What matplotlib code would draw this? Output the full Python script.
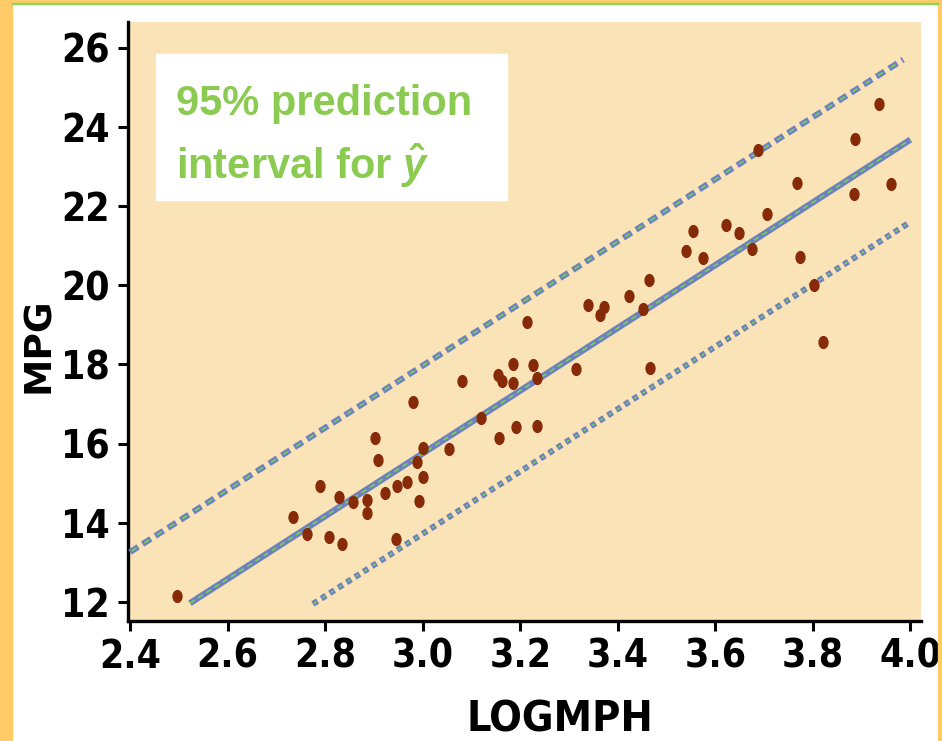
import matplotlib
matplotlib.use('Agg')
import matplotlib.pyplot as plt
from matplotlib import font_manager
from matplotlib.patches import Rectangle
from matplotlib.path import Path
import numpy as np

# scatter data: LOGMPH vs MPG
logmph = [2.496, 2.734, 2.763, 2.790, 2.808, 2.828, 2.835, 2.857, 2.886, 2.886,
          2.902, 2.908, 2.923, 2.945, 2.947, 2.968, 2.980, 2.988, 2.992, 3.001,
          3.001, 3.054, 3.081, 3.120, 3.156, 3.154, 3.163, 3.185, 3.185, 3.191,
          3.214, 3.226, 3.234, 3.234, 3.314, 3.339, 3.364, 3.372, 3.423, 3.452,
          3.464, 3.466, 3.540, 3.554, 3.575, 3.622, 3.648, 3.675, 3.706, 3.687,
          3.767, 3.774, 3.802, 3.821, 3.884, 3.886, 3.935, 3.960]
mpg = [12.15, 14.15, 13.72, 14.93, 13.64, 14.65, 13.46, 14.53, 14.58, 14.25,
       16.14, 15.59, 14.75, 13.59, 14.93, 15.03, 17.05, 15.54, 14.55, 15.16,
       15.89, 15.86, 17.58, 16.65, 16.14, 17.73, 17.58, 18.01, 17.53, 16.42,
       19.07, 17.98, 16.44, 17.66, 17.88, 19.50, 19.25, 19.45, 19.73, 19.40,
       20.13, 17.91, 20.86, 21.37, 20.69, 21.52, 21.32, 20.91, 21.80, 23.41,
       22.58, 20.71, 20.01, 18.57, 22.30, 23.69, 24.58, 22.56]

# fitted line and 95% prediction interval bounds
fit_x = [2.523, 4.0]
fit_y = [11.97, 23.68]
upper_x = [2.4, 3.985]
upper_y = [13.26, 25.70]
lower_x = [2.775, 4.0]
lower_y = [11.95, 21.60]

xticks = [2.4, 2.6, 2.8, 3.0, 3.2, 3.4, 3.6, 3.8, 4.0]
yticks = [12, 14, 16, 18, 20, 22, 24, 26]

plt.rcParams['lines.scale_dashes'] = False
plt.rcParams['mathtext.fontset'] = 'custom'
plt.rcParams['mathtext.it'] = 'Liberation Sans:italic:bold'
plt.rcParams['mathtext.rm'] = 'Liberation Sans:bold'

# look for a condensed bold face for the tick labels
cond_file = None
for f in font_manager.fontManager.ttflist:
    name = (f.name + ' ' + str(f.stretch) + ' ' + f.fname).lower()
    if ('condensed' in name or 'narrow' in name) and f.weight in (700, 'bold') and 'oblique' not in name \
            and 'italic' not in name:
        cond_file = f.fname
        break
if cond_file:
    tick_font = dict(fname=cond_file, size=28)
else:
    tick_font = dict(family='DejaVu Sans', weight='bold', size=24)

W, H = 942, 741
fig = plt.figure(figsize=(W / 100, H / 100), dpi=100)
fig.patch.set_facecolor('white')

# slide frame
orange = '#FFCB66'
fig.patches.append(Rectangle((0, 0), 12 / W, 1, transform=fig.transFigure, color=orange, zorder=0))
fig.patches.append(Rectangle((938 / W, 0), 4 / W, 1, transform=fig.transFigure, color=orange, zorder=0))
fig.patches.append(Rectangle((0, 1 - 3 / H), 1, 3 / H, transform=fig.transFigure, color=orange, zorder=0))
fig.patches.append(Rectangle((12 / W, 1 - 4 / H), 926 / W, 1.2 / H, transform=fig.transFigure,
                             color='#8CD45A', zorder=0))

ax = fig.add_axes([128 / W, 1 - 621 / H, 793 / W, 599 / H])
ax.set_facecolor('#FBE3B8')
ax.set_xlim(2.396, 4.0216)
ax.set_ylim(11.52, 26.65)

for s in ['top', 'right']:
    ax.spines[s].set_visible(False)
for s in ['left', 'bottom']:
    ax.spines[s].set_linewidth(2.4)

fp = font_manager.FontProperties(**tick_font)
ax.set_xticks(xticks)
ax.set_xticklabels([f'{t:.1f}' for t in xticks], fontproperties=fp)
ax.set_yticks(yticks)
ax.set_yticklabels([str(t) for t in yticks], fontproperties=fp)
ax.tick_params(axis='both', direction='out', length=7, width=2.2)
ax.tick_params(axis='x', pad=5)
ax.tick_params(axis='y', pad=6)

blue = '#6F80BE'
green = '#72E046'

# regression line
ax.plot(fit_x, fit_y, color=blue, lw=4.5, solid_capstyle='butt', zorder=3)
ax.plot(fit_x, fit_y, color=green, lw=1.0, ls=(0, (4, 3)), zorder=4)

# prediction interval bounds
ax.plot(upper_x, upper_y, color=blue, lw=4.3, ls=(0, (7, 3.8)), zorder=3)
ax.plot(upper_x, upper_y, color=green, lw=1.0, ls=(9.3, (4, 6.8)), zorder=4)
ax.plot(lower_x, lower_y, color=blue, lw=4.3, ls=(0, (4, 3.2)), zorder=3)
ax.plot(lower_x, lower_y, color=green, lw=1.0, ls=(6.2, (2, 5.2)), zorder=4)

# points (slightly tall ellipses)
circ = Path.unit_circle()
ell = Path(circ.vertices * np.array([0.78, 1.0]), circ.codes)
ax.plot(logmph, mpg, ls='none', marker=ell, markersize=9.5, color='#862A08',
        markeredgewidth=0, zorder=5)

# axis titles
fig.text(39 / W, 1 - 345 / H, 'MPG', rotation=90, ha='center', va='center',
         family='DejaVu Sans', weight='bold', size=27)
xl_fp = font_manager.FontProperties(**dict(tick_font, size=tick_font['size'] + 3))
fig.text(560 / W, 1 / H, 'LOGMPH', ha='center', va='bottom', fontproperties=xl_fp)

# annotation box
fig.patches.append(Rectangle((156 / W, 1 - 200 / H), 351 / W, 146 / H,
                             transform=fig.transFigure, color='white', zorder=2))
txt_green = '#8CCB52'
fig.text(176 / W, 1 - 115 / H, '95% prediction', ha='left', va='baseline',
         family='Liberation Sans', weight='bold', size=30, color=txt_green, zorder=3)
fig.text(176 / W, 1 - 179 / H, r'interval for $\hat{y}$', ha='left', va='baseline',
         family='Liberation Sans', weight='bold', size=30, color=txt_green, zorder=3)

fig.savefig('out.png', dpi=100)
